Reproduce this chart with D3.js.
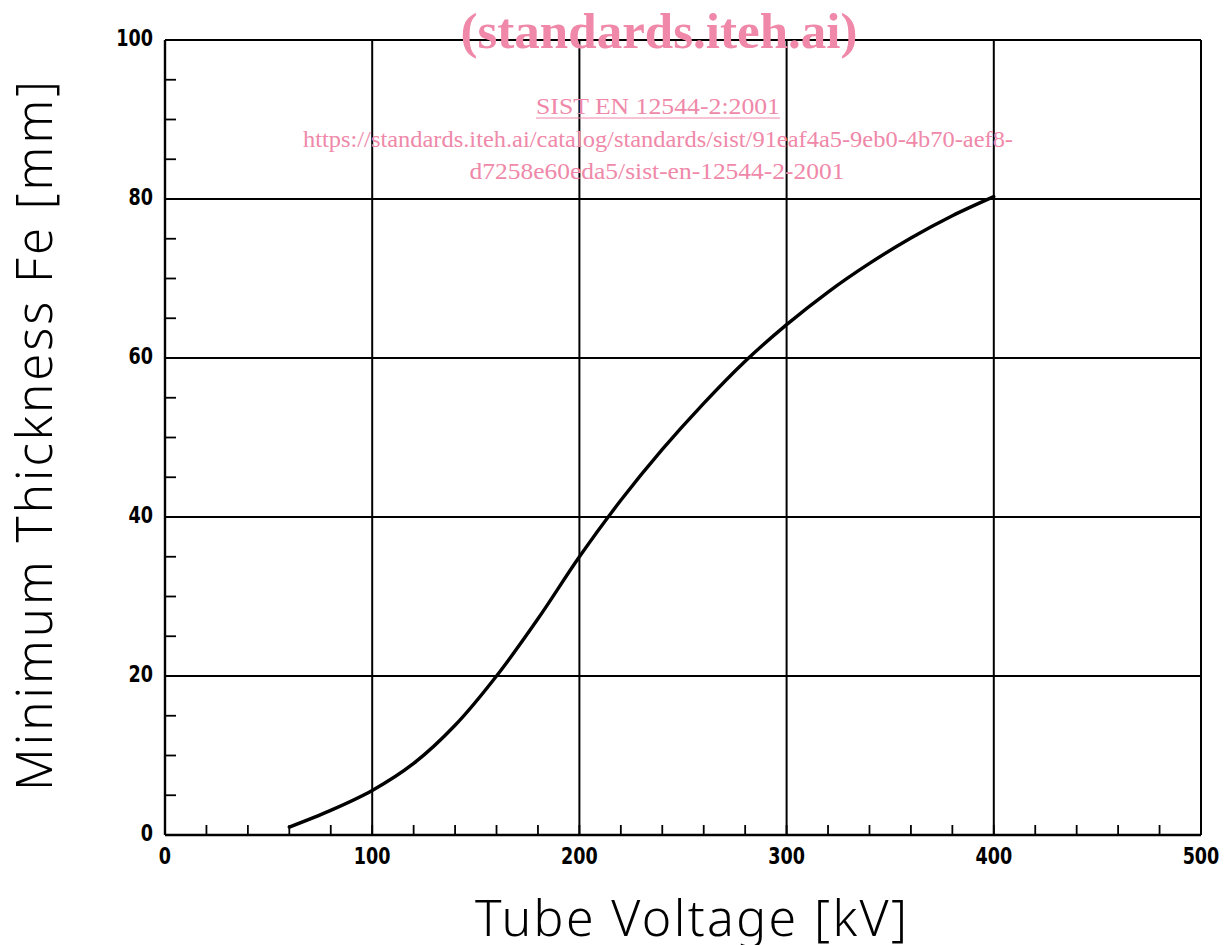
<!DOCTYPE html>
<html><head><meta charset="utf-8">
<script src="https://cdn.jsdelivr.net/npm/d3@7"></script>
<style>body{margin:0;background:#fff}svg{display:block}</style>
</head><body><svg id="c" width="1225" height="945"></svg>
<script>
const voltage   = [60, 80, 100, 120, 140, 160, 180, 200, 220, 240, 260, 280, 300, 320, 340, 360, 380, 400];
const thickness = [1.0, 3.1, 5.6, 9.0, 13.8, 20.0, 27.2, 35.0, 42.1, 48.5, 54.3, 59.6, 64.2, 68.3, 71.9, 75.1, 77.9, 80.3];
const xTicks = [0, 100, 200, 300, 400, 500];
const yTicks = [0, 20, 40, 60, 80, 100];
const xMinor = d3.range(20, 500, 20);
const yMinor = d3.range(5, 100, 5);
const xTitle = "Tube Voltage [kV]";
const yTitle = "Minimum Thickness Fe [mm]";

const svg = d3.select("#c");
const L = 165, R = 1201, T = 40, B = 835;
const x = d3.scaleLinear().domain([0, 500]).range([L, R]);
const y = d3.scaleLinear().domain([0, 100]).range([B, T]);
const ink = "#000";
const g = svg.append("g");

// grid
g.selectAll(".vg").data(xTicks.filter(d => d > 0)).join("line")
  .attr("x1", d => x(d)).attr("x2", d => x(d)).attr("y1", T).attr("y2", B)
  .attr("stroke", ink).attr("stroke-width", 2);
g.selectAll(".hg").data(yTicks.filter(d => d > 0)).join("line")
  .attr("x1", L).attr("x2", R).attr("y1", d => y(d)).attr("y2", d => y(d))
  .attr("stroke", ink).attr("stroke-width", 2);
// axes lines
g.append("line").attr("x1", L).attr("x2", L).attr("y1", T).attr("y2", B).attr("stroke", ink).attr("stroke-width", 2.4);
g.append("line").attr("x1", L).attr("x2", R).attr("y1", B).attr("y2", B).attr("stroke", ink).attr("stroke-width", 2.4);

// minor ticks
g.selectAll(".xm").data(xMinor).join("line")
  .attr("x1", d => x(d)).attr("x2", d => x(d)).attr("y1", B).attr("y2", B - 10)
  .attr("stroke", ink).attr("stroke-width", 1.8);
g.selectAll(".ym").data(yMinor).join("line")
  .attr("x1", L).attr("x2", L + 11).attr("y1", d => y(d)).attr("y2", d => y(d))
  .attr("stroke", ink).attr("stroke-width", 1.8);

// tick labels
const lf = "'DejaVu Sans Condensed','DejaVu Sans',sans-serif";
g.selectAll(".xl").data(xTicks).join("text")
  .attr("x", d => x(d)).attr("y", B + 29).attr("text-anchor", "middle")
  .attr("font-family", lf).attr("font-size", 23).attr("font-weight", "bold")
  .attr("transform", d => `translate(${x(d)},0) scale(0.85,1) translate(${-x(d)},0)`)
  .text(d => d);
g.selectAll(".yl").data(yTicks).join("text")
  .attr("x", L - 12).attr("y", d => y(d) + 6).attr("text-anchor", "end")
  .attr("font-family", lf).attr("font-size", 23).attr("font-weight", "bold")
  .attr("transform", `translate(${L - 12},0) scale(0.85,1) translate(${-(L - 12)},0)`)
  .text(d => d);

// curve
const line = d3.line().x(d => x(d[0])).y(d => y(d[1])).curve(d3.curveCatmullRom.alpha(0.5));
g.append("path").datum(voltage.map((v, i) => [v, thickness[i]]))
  .attr("d", line).attr("fill", "none").attr("stroke", ink).attr("stroke-width", 3.4)
  .attr("stroke-linecap", "round");

// axis titles
const tf = "'Noto Sans','DejaVu Sans',sans-serif";
g.append("text").attr("x", 691).attr("y", 936).attr("text-anchor", "middle")
  .attr("font-family", tf).attr("font-size", 50).attr("font-weight", 300)
  .attr("textLength", 432).attr("lengthAdjust", "spacing").text(xTitle);
g.append("text").attr("transform", "translate(52,436) rotate(-90)").attr("text-anchor", "middle")
  .attr("font-family", tf).attr("font-size", 49).attr("font-weight", 300)
  .attr("textLength", 710).attr("lengthAdjust", "spacing").text(yTitle);

// watermark
const pink = "#ef88a9";
const sf = "'Liberation Serif','Times New Roman',serif";
g.append("text").attr("x", 659).attr("y", 48).attr("text-anchor", "middle")
  .attr("font-family", sf).attr("font-weight", "bold").attr("font-size", 51)
  .attr("fill", pink).attr("textLength", 397).attr("lengthAdjust", "spacingAndGlyphs")
  .text("(standards.iteh.ai)");
g.append("text").attr("x", 658).attr("y", 114).attr("text-anchor", "middle")
  .attr("font-family", sf).attr("font-size", 23)
  .attr("fill", pink).attr("textLength", 244).attr("lengthAdjust", "spacingAndGlyphs").text("SIST EN 12544-2:2001");
g.append("line").attr("x1", 536).attr("x2", 780).attr("y1", 118).attr("y2", 118).attr("stroke", pink).attr("stroke-width", 1);
g.append("text").attr("x", 658).attr("y", 147).attr("text-anchor", "middle")
  .attr("font-family", sf).attr("font-size", 23).attr("fill", pink)
  .attr("textLength", 710).attr("lengthAdjust", "spacingAndGlyphs")
  .text("https://standards.iteh.ai/catalog/standards/sist/91eaf4a5-9eb0-4b70-aef8-");
g.append("text").attr("x", 657).attr("y", 179).attr("text-anchor", "middle")
  .attr("font-family", sf).attr("font-size", 23).attr("fill", pink)
  .attr("textLength", 375).attr("lengthAdjust", "spacingAndGlyphs")
  .text("d7258e60eda5/sist-en-12544-2-2001");
</script></body></html>
